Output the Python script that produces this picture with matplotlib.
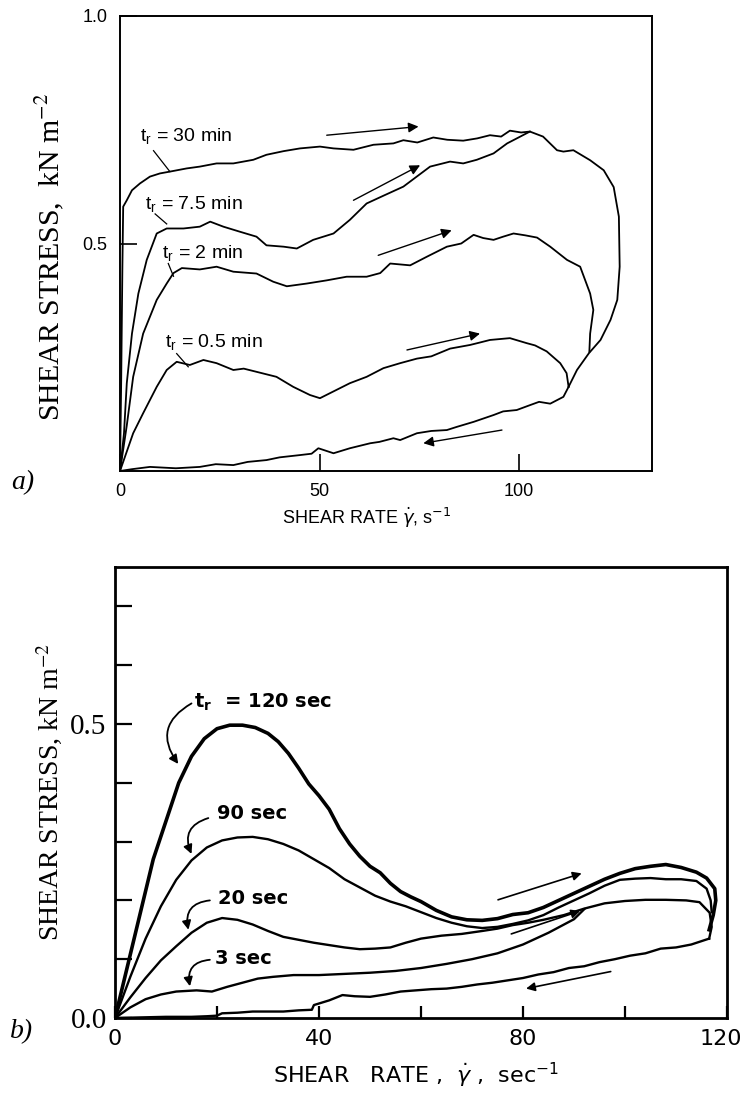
import matplotlib
matplotlib.use('Agg')

import matplotlib.pyplot as plt

# ---------------- panel a) : thixotropic loops, t_r in minutes ----------------
a_x30 = [0, 0.3, 0.6, 0.8, 1.7, 3, 5, 7.5, 10, 12.5, 16.7, 20, 24.2, 28.4, 33.4, 36.7, 41, 45.1,
         50.1, 53.5, 58.5, 63.5, 68.5, 71, 74.5, 78.5, 82, 86, 89.5, 92.7, 95.5, 97.7, 100.5, 102.7,
         106, 109.5, 111.1, 113.6, 117.8, 121.2, 123.7, 125, 125.2, 124.6, 122.9, 120.4, 117.5,
         114.5, 112.4]
a_y30 = [0, 0.2, 0.45, 0.581, 0.595, 0.617, 0.632, 0.647, 0.654, 0.658, 0.665, 0.669, 0.676,
         0.676, 0.684, 0.695, 0.703, 0.709, 0.713, 0.709, 0.706, 0.717, 0.72, 0.727, 0.722, 0.733,
         0.728, 0.726, 0.731, 0.738, 0.735, 0.748, 0.744, 0.746, 0.735, 0.705, 0.702, 0.705, 0.683,
         0.661, 0.624, 0.559, 0.449, 0.376, 0.332, 0.288, 0.259, 0.222, 0.185]

a_x75 = [0, 1, 1.7, 3, 4.6, 6.7, 9.2, 11.7, 15.9, 20, 22.6, 25.9, 30, 34.2, 36.7, 41, 44.3, 48.4,
         53.5, 57.6, 61.8, 66, 71, 74.5, 77.7, 82.7, 86, 89.4, 93.6, 97, 100.3, 102.7]
a_y75 = [0, 0.083, 0.193, 0.302, 0.39, 0.464, 0.522, 0.533, 0.533, 0.537, 0.548, 0.537, 0.526,
         0.515, 0.496, 0.493, 0.489, 0.508, 0.522, 0.552, 0.588, 0.605, 0.625, 0.648, 0.669, 0.68,
         0.676, 0.684, 0.698, 0.72, 0.735, 0.746]

a_x2 = [0, 1.7, 3.3, 5.8, 9.2, 11.7, 13.4, 15.5, 20, 24.2, 28.4, 34.2, 38.4, 41.8, 46.8, 51.8,
        56.8, 61.8, 65.2, 67.7, 72.7, 76.9, 81.9, 85.5, 88.6, 91, 93.6, 96, 98.6, 101.5, 104.5,
        107.8, 112, 115.3, 117.8, 118.6, 117.8, 117.6]
a_y2 = [0, 0.1, 0.207, 0.302, 0.376, 0.412, 0.435, 0.446, 0.443, 0.449, 0.438, 0.434, 0.416,
        0.406, 0.412, 0.419, 0.427, 0.427, 0.435, 0.456, 0.452, 0.471, 0.493, 0.5, 0.519, 0.512,
        0.508, 0.515, 0.522, 0.518, 0.513, 0.493, 0.464, 0.449, 0.39, 0.354, 0.302, 0.262]

a_x05 = [0, 3.3, 5.8, 9.2, 11.7, 14.2, 17.5, 20.9, 24.2, 28.4, 31, 34.2, 39.2, 43.4, 47.6, 50.1,
         52.6, 57.6, 61.8, 66, 70.2, 74.4, 78, 82.7, 87.7, 90, 92.7, 97.7, 101.9, 104, 106.9, 110.3,
         111.9, 112.4]
a_y05 = [0, 0.083, 0.127, 0.185, 0.222, 0.24, 0.233, 0.244, 0.237, 0.222, 0.225, 0.218, 0.207,
         0.185, 0.167, 0.16, 0.171, 0.193, 0.207, 0.226, 0.237, 0.247, 0.252, 0.269, 0.277, 0.282,
         0.288, 0.292, 0.281, 0.276, 0.263, 0.237, 0.215, 0.185]

a_xret = [112.4, 111.1, 107.8, 105, 102.8, 99.4, 96, 93.6, 88.6, 84.4, 81.9, 78, 74.4, 70.2, 68.5,
          65, 62.7, 57.6, 53.5, 49.7, 48, 45.1, 40, 36.7, 32, 28.4, 24, 20, 14, 7.5, 3, 0]
a_yret = [0.185, 0.163, 0.148, 0.152, 0.145, 0.134, 0.131, 0.123, 0.108, 0.097, 0.09, 0.088, 0.083,
          0.068, 0.072, 0.064, 0.061, 0.05, 0.039, 0.05, 0.038, 0.035, 0.03, 0.024, 0.02, 0.013,
          0.015, 0.009, 0.006, 0.009, 0.004, 0]

a_curves = [(a_x30, a_y30), (a_x75, a_y75), (a_x2, a_y2), (a_x05, a_y05), (a_xret, a_yret)]

a_labels = ['t$_\\mathregular{r}$ = 30 min', 't$_\\mathregular{r}$ = 7.5 min',
            't$_\\mathregular{r}$ = 2 min', 't$_\\mathregular{r}$ = 0.5 min']
a_label_xy = [(5, 0.735), (6.3, 0.585), (10.5, 0.478), (11.3, 0.281)]
a_pointers = [((8.4, 0.704), (12.5, 0.658)), ((8.8, 0.565), (11.7, 0.543)),
              ((12.1, 0.456), (13.4, 0.428)), ((14.2, 0.258), (17.1, 0.229))]
a_arrows = [((51.8, 0.738), (74.8, 0.757)), ((58.5, 0.595), (75.2, 0.672)),
            ((64.7, 0.474), (83.1, 0.529)), ((71.9, 0.266), (90.2, 0.302)),
            ((95.7, 0.09), (76.0, 0.061))]

# ---------------- panel b) : t_r in seconds ----------------
b_x120 = [0, 2.5, 5, 7.5, 10, 12.5, 15, 17.5, 20, 22.5, 25, 27.5, 30, 32, 34, 36, 38, 40, 42, 44,
          46, 48, 50, 52, 54, 56, 58, 60, 63, 66, 69, 72, 75, 78, 81, 84, 87, 90, 93, 96, 99, 102,
          105, 108, 111, 114, 116, 117.6, 117.8, 117.3, 116.5]
b_y120 = [0, 0.09, 0.18, 0.27, 0.335, 0.4, 0.445, 0.475, 0.492, 0.498, 0.498, 0.494, 0.484, 0.47,
          0.45, 0.425, 0.398, 0.378, 0.355, 0.322, 0.296, 0.275, 0.258, 0.247, 0.229, 0.215, 0.206,
          0.198, 0.183, 0.172, 0.167, 0.166, 0.169, 0.176, 0.179, 0.188, 0.2, 0.212, 0.224, 0.236,
          0.246, 0.254, 0.258, 0.261, 0.256, 0.248, 0.238, 0.22, 0.2, 0.175, 0.15]

b_x90 = [0, 3, 6, 9, 12, 15, 18, 21, 24, 27, 30, 33, 36, 39, 42, 45, 48, 51, 54, 57, 60, 63, 66,
         69, 72, 75, 78, 81, 84, 87, 90, 93, 96, 99, 102, 105, 108, 111, 114, 116, 116.8, 117]
b_y90 = [0, 0.07, 0.135, 0.19, 0.235, 0.268, 0.29, 0.302, 0.307, 0.308, 0.304, 0.296, 0.285, 0.27,
         0.255, 0.236, 0.222, 0.208, 0.198, 0.19, 0.18, 0.17, 0.162, 0.156, 0.153, 0.155, 0.16,
         0.166, 0.175, 0.188, 0.2, 0.212, 0.225, 0.235, 0.237, 0.238, 0.236, 0.236, 0.233, 0.22,
         0.2, 0.18]

b_x20 = [0, 3, 6, 9, 12, 15, 18, 21, 24, 27, 30, 33, 36, 39, 42, 45, 48, 51, 54, 57, 60, 64, 68,
         72, 75, 78, 81, 84, 88, 92, 96, 100, 104, 108, 112, 114.6, 116.6, 117, 116.5]
b_y20 = [0, 0.035, 0.068, 0.098, 0.122, 0.145, 0.162, 0.17, 0.167, 0.159, 0.148, 0.138, 0.133,
         0.128, 0.124, 0.12, 0.117, 0.118, 0.12, 0.128, 0.135, 0.14, 0.143, 0.148, 0.152, 0.158,
         0.162, 0.167, 0.175, 0.186, 0.195, 0.199, 0.201, 0.201, 0.2, 0.197, 0.179, 0.155, 0.135]

b_x3 = [0, 3, 6, 9, 12, 16, 19, 22, 25, 28, 31, 35, 40, 45, 50, 55, 60, 65, 70, 75, 80, 85, 90, 92]
b_y3 = [0, 0.018, 0.032, 0.04, 0.045, 0.047, 0.045, 0.053, 0.06, 0.067, 0.07, 0.073, 0.073, 0.075,
        0.077, 0.08, 0.085, 0.092, 0.1, 0.11, 0.125, 0.145, 0.168, 0.185]

b_xret = [116.5, 113, 110, 107, 104, 101, 98, 95, 92, 89, 86, 83, 80, 77, 74, 71, 68, 65, 62, 59,
          56, 53, 50, 47, 44.6, 42, 39, 38.6, 36, 33, 30, 27, 24, 21, 20, 18, 15, 10, 5, 0]
b_yret = [0.135, 0.125, 0.12, 0.118, 0.11, 0.106, 0.1, 0.095, 0.088, 0.085, 0.078, 0.074, 0.068,
          0.064, 0.06, 0.057, 0.053, 0.05, 0.049, 0.047, 0.045, 0.04, 0.036, 0.037, 0.039, 0.03,
          0.022, 0.014, 0.013, 0.011, 0.011, 0.011, 0.009, 0.008, 0.004, 0.003, 0.002, 0.002,
          0.001, 0]

b_curves = [(b_x120, b_y120, 2.6), (b_x90, b_y90, 1.7), (b_x20, b_y20, 1.7),
            (b_x3, b_y3, 1.7), (b_xret, b_yret, 1.7)]

b_labels = ['t$_\\mathregular{r}$  = 120 sec', '90 sec', '20 sec', '3 sec']
b_label_xy = [(15.5, 0.536), (20.0, 0.347), (20.2, 0.204), (19.6, 0.102)]
b_curved = [((15.0, 0.535), (12.4, 0.432)), ((18.3, 0.34), (15.0, 0.279)),
            ((18.6, 0.2), (14.4, 0.15)), ((18.6, 0.099), (14.7, 0.054))]
b_arrows = [((75.1, 0.201), (91.5, 0.246)), ((77.7, 0.143), (91.2, 0.182)),
            ((97.2, 0.079), (80.6, 0.05))]

b_yticks = [0.0, 0.1, 0.2, 0.3, 0.4, 0.5, 0.6, 0.7]
b_ytick_labels = ['0.0', '', '', '', '', '0.5', '', '']
b_xticks = [0, 20, 40, 60, 80, 100, 120]
b_xtick_labels = ['0', '', '40', '', '80', '', '']
b_last_label = (118.7, '120')

serif = ['Liberation Serif', 'DejaVu Serif']
sans = ['Liberation Sans', 'DejaVu Sans']

fig = plt.figure(figsize=(7.45, 10.96), dpi=100)

# ---- top panel ----
ax1 = fig.add_axes([120 / 745, 1 - 471 / 1096, 532 / 745, 455 / 1096])
for xs, ys in a_curves:
    ax1.plot(xs, ys, color='black', lw=1.3)
for (x0, y0), (x1, y1) in a_pointers:
    ax1.plot([x0, x1], [y0, y1], color='black', lw=0.9)
for txt, (tx, ty) in zip(a_labels, a_label_xy):
    ax1.text(tx, ty, txt, family=sans, fontsize=14, va='center', ha='left',
             math_fontfamily='dejavusans')
for start, end in a_arrows:
    ax1.annotate('', xy=end, xytext=start,
                 arrowprops=dict(arrowstyle='-|>', color='black', lw=1.0,
                                 mutation_scale=15, shrinkA=0, shrinkB=0))
ax1.set_xlim(0, 133.3)
ax1.set_ylim(0, 1.0)
ax1.set_xticks([0, 50, 100])
ax1.set_xticklabels(['0', '50', '100'])
ax1.set_yticks([0.5, 1.0])
ax1.set_yticklabels(['0.5', '1.0'])
ax1.tick_params(direction='in', length=12, width=1.2, pad=9, labelsize=13)
for lab in ax1.get_xticklabels() + ax1.get_yticklabels():
    lab.set_family(sans)
for sp in ax1.spines.values():
    sp.set_linewidth(1.4)

fig.text(0.067, 1 - 257 / 1096, 'SHEAR STRESS,  kN m$^{-2}$', rotation=90, ha='center',
         va='center', family=serif, fontsize=21.5, math_fontfamily='stix')
fig.text(367 / 745, 1 - 518 / 1096, 'SHEAR RATE $\\dot{\\gamma}$, s$^{-1}$', ha='center',
         va='center', family=sans, fontsize=13, math_fontfamily='dejavusans')
fig.text(23 / 745, 1 - 483 / 1096, 'a)', ha='center', va='center', family=serif,
         style='italic', fontsize=20)

# ---- bottom panel ----
ax2 = fig.add_axes([115 / 745, 1 - 1018 / 1096, 612 / 745, 451 / 1096])
for xs, ys, w in b_curves:
    ax2.plot(xs, ys, color='black', lw=w)
for txt, (tx, ty) in zip(b_labels, b_label_xy):
    ax2.text(tx, ty, txt, family='DejaVu Sans', fontweight='bold', fontsize=14,
             va='center', ha='left', math_fontfamily='dejavusans')
for start, end in b_curved:
    ax2.annotate('', xy=end, xytext=start,
                 arrowprops=dict(arrowstyle='-|>', color='black', lw=1.3,
                                 mutation_scale=13, shrinkA=0, shrinkB=0,
                                 connectionstyle='arc3,rad=0.55'))
for start, end in b_arrows:
    ax2.annotate('', xy=end, xytext=start,
                 arrowprops=dict(arrowstyle='-|>', color='black', lw=1.2,
                                 mutation_scale=13, shrinkA=0, shrinkB=0))
ax2.set_xlim(0, 120)
ax2.set_ylim(0, 0.767)
ax2.set_xticks(b_xticks)
ax2.set_xticklabels(b_xtick_labels)
ax2.set_yticks(b_yticks)
ax2.set_yticklabels(b_ytick_labels)
ax2.tick_params(axis='y', direction='in', length=12, width=1.6, pad=6)
ax2.tick_params(axis='x', direction='in', length=9, width=1.6, pad=8)
for lab in ax2.get_yticklabels():
    lab.set_family(serif)
    lab.set_fontsize(21)
for lab in ax2.get_xticklabels():
    lab.set_family('DejaVu Sans')
    lab.set_fontsize(16)
# the last label sits flush with the right edge of the page
ax2.text(b_last_label[0], 0, b_last_label[1], ha='center', va='top',
         family='DejaVu Sans', fontsize=16,
         transform=ax2.get_xaxis_transform() + matplotlib.transforms.ScaledTranslation(
             0, -8 / 72, fig.dpi_scale_trans))
for sp in ax2.spines.values():
    sp.set_linewidth(2.0)

fig.text(0.067, 1 - 792 / 1096, 'SHEAR STRESS, kN m$^{-2}$', rotation=90, ha='center',
         va='center', family=serif, fontsize=20, math_fontfamily='stix')
fig.text(416 / 745, 1 - 1075 / 1096, 'SHEAR   RATE ,  $\\dot{\\gamma}$ ,  sec$^{-1}$',
         ha='center', va='center', family='DejaVu Sans', fontsize=16,
         math_fontfamily='dejavusans')
fig.text(22 / 745, 1 - 1032 / 1096, 'b)', ha='center', va='center', family=serif,
         style='italic', fontsize=20)

plt.savefig('out.png', dpi=100)
